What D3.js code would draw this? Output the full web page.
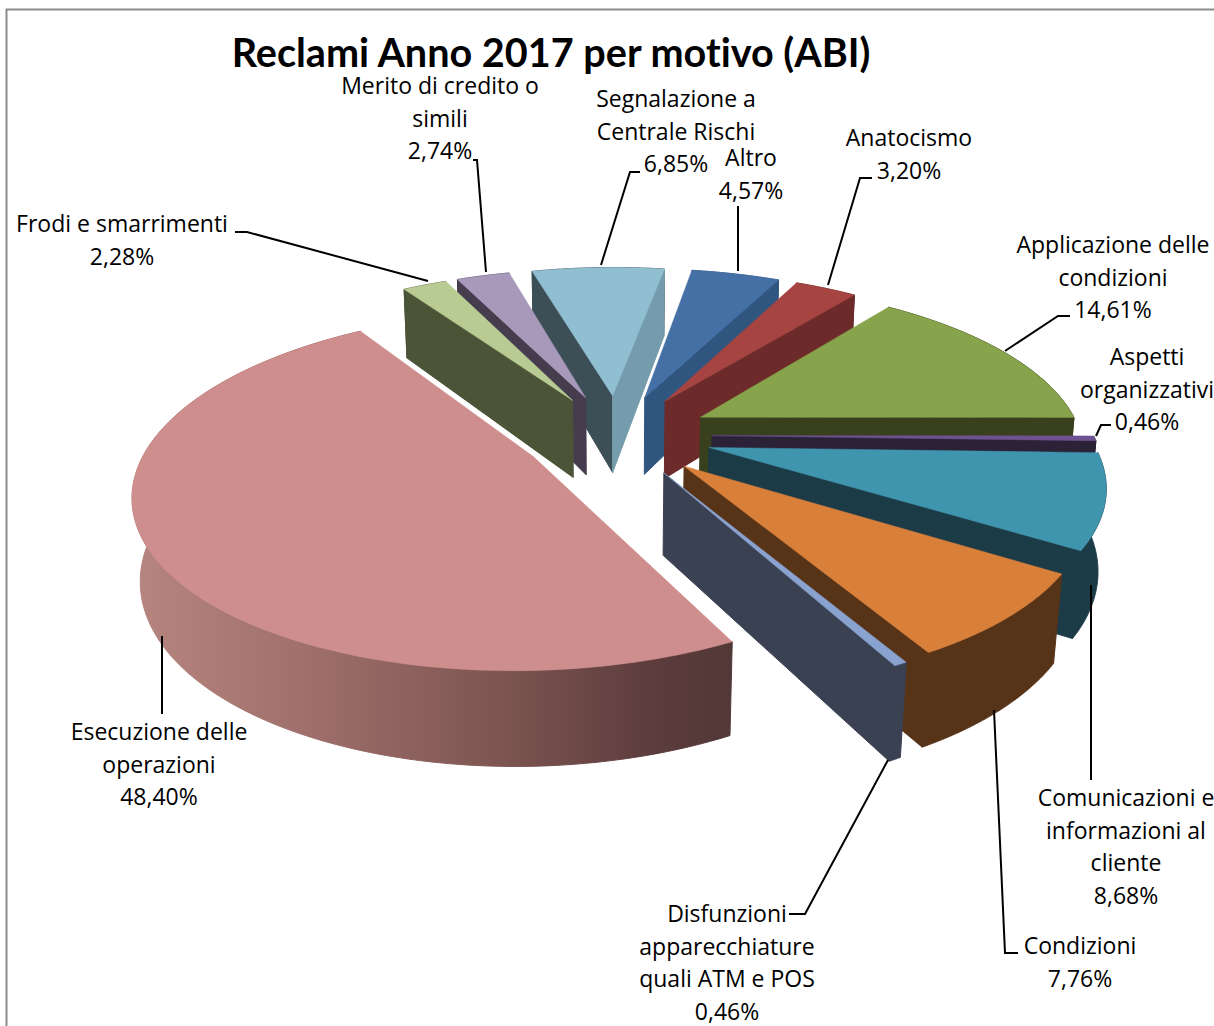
<!DOCTYPE html>
<html>
<head>
<meta charset="utf-8">
<style>
  html, body { margin: 0; padding: 0; background: #fff; overflow: hidden; }
  text { fill: #000; font-variant-ligatures: none; }
</style>
<script src="https://cdn.jsdelivr.net/npm/d3@7"></script>
</head>
<body>
<svg id="chart" width="1214" height="1026"></svg>
<script>
const categories = [
  "Applicazione delle condizioni", "Aspetti organizzativi", "Comunicazioni e informazioni al cliente",
  "Condizioni", "Disfunzioni apparecchiature quali ATM e POS", "Esecuzione delle operazioni",
  "Frodi e smarrimenti", "Merito di credito o simili", "Segnalazione a Centrale Rischi", "Altro", "Anatocismo"
];
const shares = [14.61, 0.46, 8.68, 7.76, 0.46, 48.40, 2.28, 2.74, 6.85, 4.57, 3.20];

const topColors  = ["#87A34B", "#6F5290", "#4095AE", "#D87F3A", "#8AA2CF", "#CE8E8D", "#B8CB92", "#A898BA", "#90BFD2", "#4470A6", "#A54441"];
const wallColors = ["#38401E", "#2C2238", "#1B3B47", "#573318", "#3A4152", "#533838", "#4C5438", "#453D4D", "#3C4F57", "#30557F", "#6C2B2A"];
const rightWallColors = ["#38401E", "#2C2238", "#1B3B47", "#573318", "#3A4152", "#533838", "#4C5438", "#453D4D", "#759CAC", "#30557F", "#6C2B2A"];

// Label text lines, leader polylines and text anchor for each slice.
const labelLines = [
  ["Applicazione delle", "condizioni", "14,61%"],
  ["Aspetti", "organizzativi", "0,46%"],
  ["Comunicazioni e", "informazioni al", "cliente", "8,68%"],
  ["Condizioni", "7,76%"],
  ["Disfunzioni", "apparecchiature", "quali ATM e POS", "0,46%"],
  ["Esecuzione delle", "operazioni", "48,40%"],
  ["Frodi e smarrimenti", "2,28%"],
  ["Merito di credito o", "simili", "2,74%"],
  ["Segnalazione a", "Centrale Rischi", "6,85%"],
  ["Altro", "4,57%"],
  ["Anatocismo", "3,20%"]
];
const labelCenters = [[1113, 245], [1147, 357], [1126, 798], [1080, 946], [727, 914], [159, 732], [122, 224], [440, 86], [676, 99], [751, 158], [909, 138]];
const leaderPaths = [
  [[1005, 351], [1058, 316], [1070, 316]],
  [[1096, 436], [1101, 425], [1111, 425]],
  [[1091, 585], [1091, 780]],
  [[994, 710], [1005, 953], [1018, 953]],
  [[888, 760], [805, 914], [789, 914]],
  [[162, 636], [162, 714]],
  [[428, 281], [247, 232], [235, 232]],
  [[486, 272], [477, 160], [473, 160]],
  [[601, 265], [630, 172], [640, 172]],
  [[738, 271], [738, 206]],
  [[828, 285], [860, 178], [872, 178]]
];

const svg = d3.select("#chart");

// Chart frame runs off the right and bottom of the page.
svg.append("path").attr("d", "M6.5,1026V9.5H1214").attr("fill", "none").attr("stroke", "#8C8C8C").attr("stroke-width", 2);

// Perspective camera looking down at the disc plane.
const centerX = 617, centerY = 435;
const radius = 381, explode = 95, thickness = 90;
const tiltY = 0.434, tiltZ = 0.9, depthY = 0.00049, depthZ = 0.00018;
const firstAngle = 37.5;

function project(x, y, z) {
  const w = 1 - depthY * y + depthZ * z;
  return [centerX + x / w, centerY + (tiltY * y + tiltZ * z) / w];
}

const pie = d3.pie().sort(null).value(d => d)
  .startAngle(firstAngle * Math.PI / 180).endAngle((firstAngle + 360) * Math.PI / 180);
const line = d3.line();
const closed = pts => line(pts) + "Z";

const slices = pie(shares).map((arc, i) => {
  const mid = (arc.startAngle + arc.endAngle) / 2;
  const ox = explode * Math.sin(mid), oy = -explode * Math.cos(mid);
  const rim = a => [ox + radius * Math.sin(a), oy - radius * Math.cos(a)];
  return { i, arc, ox, oy, rim };
});

const defs = svg.append("defs");
const sideGradient = defs.append("linearGradient").attr("id", "sideGradient")
  .attr("gradientUnits", "userSpaceOnUse").attr("x1", 135).attr("x2", 727).attr("y1", 0).attr("y2", 0);
[[0, "#B6857F"], [0.28, "#A0706C"], [0.6, "#7F5653"], [0.88, "#5C3C3C"], [1, "#533838"]]
  .forEach(([o, c]) => sideGradient.append("stop").attr("offset", o).attr("stop-color", c));

const pieLayer = svg.append("g");

// Paint far slices first so nearer ones overlap them.
slices.slice().sort((a, b) => a.oy - b.oy).forEach(s => {
  const g = pieLayer.append("g");
  const steps = d3.range(0, 121).map(k => s.arc.startAngle + (s.arc.endAngle - s.arc.startAngle) * k / 120);
  const topArc = steps.map(a => project(...s.rim(a), 0));
  const bottomArc = steps.map(a => project(...s.rim(a), thickness));
  const apexTop = project(s.ox, s.oy, 0), apexBottom = project(s.ox, s.oy, thickness);
  const wallFill = s.i === 5 ? "url(#sideGradient)" : wallColors[s.i];

  // Outer curved wall
  g.append("path").attr("d", closed(topArc.concat(bottomArc.slice().reverse())))
    .attr("fill", wallFill).attr("stroke", wallFill).attr("stroke-width", 1);

  // Radial walls, kept only when they face the camera; the stroke closes
  // the seam where they meet the curved wall.
  const startWall = [apexTop, topArc[0], bottomArc[0], apexBottom];
  const endWall = [apexTop, topArc[120], bottomArc[120], apexBottom];
  if (d3.polygonArea(startWall) > 0) {
    g.append("path").attr("d", closed(startWall)).attr("fill", wallColors[s.i]).attr("stroke", wallColors[s.i]).attr("stroke-width", 1);
  }
  if (d3.polygonArea(endWall) < 0) {
    g.append("path").attr("d", closed(endWall)).attr("fill", rightWallColors[s.i]).attr("stroke", rightWallColors[s.i]).attr("stroke-width", 1);
  }

  // Top face
  g.append("path").attr("d", closed([apexTop].concat(topArc)))
    .attr("fill", topColors[s.i]).attr("stroke", topColors[s.i]).attr("stroke-width", 0.5);
});

// Leader lines
svg.append("g").selectAll("path").data(leaderPaths).join("path")
  .attr("d", d => line(d)).attr("fill", "none").attr("stroke", "#000").attr("stroke-width", 2);

// Data labels
const labelFont = "'Open Sans', 'Noto Sans', sans-serif";
const labelGroup = svg.append("g").attr("font-family", labelFont).attr("font-size", 23).attr("text-anchor", "middle");
labelLines.forEach((lines, i) => {
  const [cx, cy] = labelCenters[i];
  lines.forEach((t, j) => {
    labelGroup.append("text").attr("x", cx).attr("y", cy + j * 32.5).attr("dy", "0.36em").text(t);
  });
});

svg.append("text").attr("x", 551).attr("y", 67).attr("text-anchor", "middle")
  .attr("font-family", "Lato, sans-serif").attr("font-weight", 700).attr("font-size", 39.6)
  .text("Reclami Anno 2017 per motivo (ABI)");
</script>
</body>
</html>
